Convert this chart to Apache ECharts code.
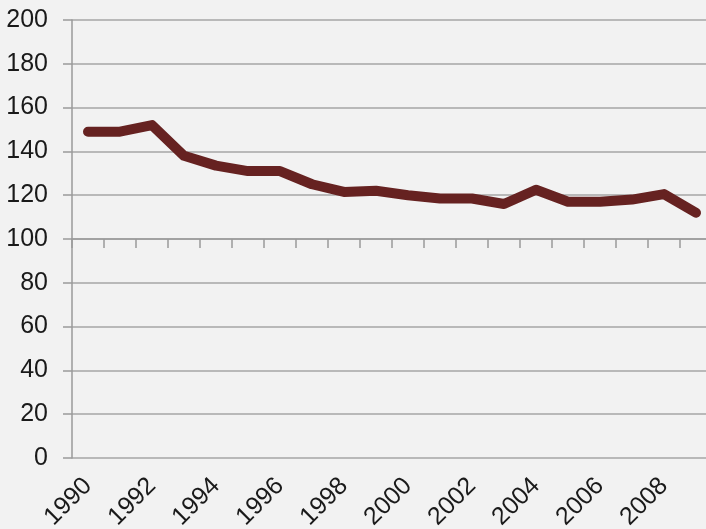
<!DOCTYPE html>
<html>
<head>
<meta charset="utf-8">
<script src="https://cdn.jsdelivr.net/npm/echarts@6/dist/echarts.min.js"></script>
<style>
html, body { margin: 0; padding: 0; background: #f2f2f2; }
#chart { width: 706px; height: 529px; }
</style>
</head>
<body>
<div id="chart"></div>
<script>
// years on the category axis
var years = ['1990', '1991', '1992', '1993', '1994', '1995', '1996', '1997', '1998', '1999',
             '2000', '2001', '2002', '2003', '2004', '2005', '2006', '2007', '2008', '2009'];
// values
var values = [149, 149, 152, 138, 133.5, 131, 131, 125, 121.5, 122,
              120, 118.5, 118.5, 116, 122.5, 117, 117, 118, 120.5, 112];

var chart = echarts.init(document.getElementById('chart'));
var font = '"Liberation Sans", Arial, sans-serif';

var option = {
    backgroundColor: '#f2f2f2',
    animation: false,
    grid: { left: 72, top: 20, width: 640, height: 438, outerBoundsMode: 'none', containLabel: false },
    xAxis: [
        {
            // labels at the bottom
            type: 'category',
            data: years,
            boundaryGap: true,
            axisLine: { show: false },
            axisTick: { show: false },
            axisLabel: {
                interval: 1,
                rotate: 45,
                margin: 24,
                fontSize: 25,
                color: '#1a1a1a',
                fontFamily: font
            }
        },
        {
            // axis line crossing at 100
            type: 'category',
            data: years,
            position: 'bottom',
            offset: -219,
            boundaryGap: true,
            axisLine: { show: true, lineStyle: { color: '#9a9a9a', width: 1.5 } },
            axisTick: { show: true, interval: 0, length: 9, lineStyle: { color: '#9a9a9a', width: 1.5 } },
            axisLabel: { show: false, interval: 0 }
        }
    ],
    yAxis: {
        type: 'value',
        min: 0,
        max: 200,
        interval: 20,
        axisLine: { show: true, lineStyle: { color: '#9a9a9a', width: 1.5 } },
        axisTick: { show: true, length: 9, lineStyle: { color: '#9a9a9a', width: 1.5 } },
        splitLine: { show: true, lineStyle: { color: '#a6a6a6', width: 1.5 } },
        axisLabel: {
            margin: 24,
            fontSize: 25,
            color: '#1a1a1a',
            fontFamily: font
        }
    },
    series: [
        {
            type: 'line',
            data: values,
            xAxisIndex: 0,
            symbol: 'none',
            lineStyle: { color: '#662221', width: 10, cap: 'round', join: 'round' }
        }
    ]
};
chart.setOption(option);
</script>
</body>
</html>
